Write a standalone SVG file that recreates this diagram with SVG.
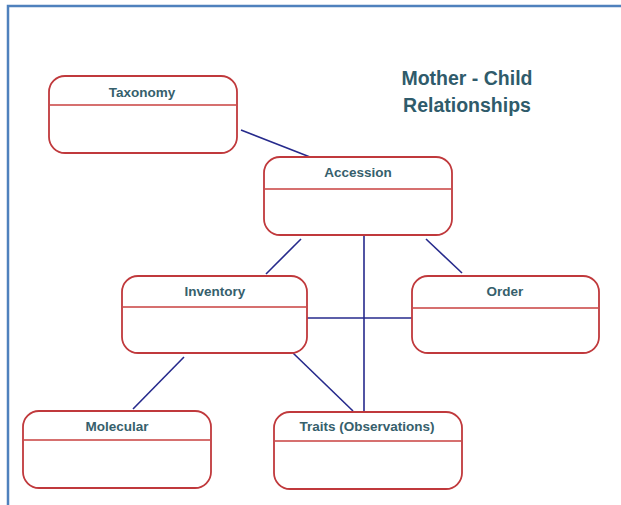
<svg xmlns="http://www.w3.org/2000/svg" width="621" height="505" viewBox="0 0 621 505">
<style>
.box{fill:#fff;stroke:#c0393c;stroke-width:1.8}
.div{stroke:#c8403f;stroke-width:1.6}
.lbl{font-family:"Liberation Sans",Arial,sans-serif;font-weight:bold;font-size:13.5px;fill:#36606c;text-anchor:middle}
.ttl{font-family:"Liberation Sans",Arial,sans-serif;font-weight:bold;font-size:19.5px;fill:#2f5b6b;text-anchor:middle}
.con line{stroke:#262a8c;stroke-width:1.6}
</style>
<rect width="621" height="505" fill="#fff"/>
<path d="M8 505 V6 H621" fill="none" stroke="#4f81bd" stroke-width="2.5"/>
<g id="connectors" class="con">
<line x1="241" y1="130" x2="310" y2="157"/>
<line x1="301" y1="239" x2="266" y2="274"/>
<line x1="426" y1="239" x2="462" y2="273"/>
<line x1="364" y1="235" x2="364" y2="412"/>
<line x1="307" y1="318" x2="412" y2="318"/>
<line x1="184" y1="357" x2="133" y2="409"/>
<line x1="293" y1="353" x2="353" y2="411"/>
</g>
<g id="title">
<text class="ttl" x="467" y="85">Mother - Child</text>
<text class="ttl" x="467" y="112">Relationships</text>
</g>
<g id="taxonomy">
<rect class="box" x="49" y="76" width="188" height="77" rx="16"/>
<line class="div" x1="50" y1="105" x2="236" y2="105"/>
<text class="lbl" x="142" y="97">Taxonomy</text>
</g>
<g id="accession">
<rect class="box" x="264" y="157" width="188" height="78" rx="16"/>
<line class="div" x1="265" y1="189" x2="451" y2="189"/>
<text class="lbl" x="358" y="177">Accession</text>
</g>
<g id="inventory">
<rect class="box" x="122" y="276" width="185" height="77" rx="16"/>
<line class="div" x1="123" y1="307" x2="306" y2="307"/>
<text class="lbl" x="215" y="296">Inventory</text>
</g>
<g id="order">
<rect class="box" x="412" y="276" width="187" height="77" rx="16"/>
<line class="div" x1="413" y1="308" x2="598" y2="308"/>
<text class="lbl" x="505" y="296">Order</text>
</g>
<g id="molecular">
<rect class="box" x="23" y="411" width="188" height="77" rx="16"/>
<line class="div" x1="24" y1="440" x2="210" y2="440"/>
<text class="lbl" x="117" y="431">Molecular</text>
</g>
<g id="traits">
<rect class="box" x="274" y="412" width="188" height="77" rx="16"/>
<line class="div" x1="275" y1="441" x2="461" y2="441"/>
<text class="lbl" x="367" y="431">Traits (Observations)</text>
</g>
</svg>
